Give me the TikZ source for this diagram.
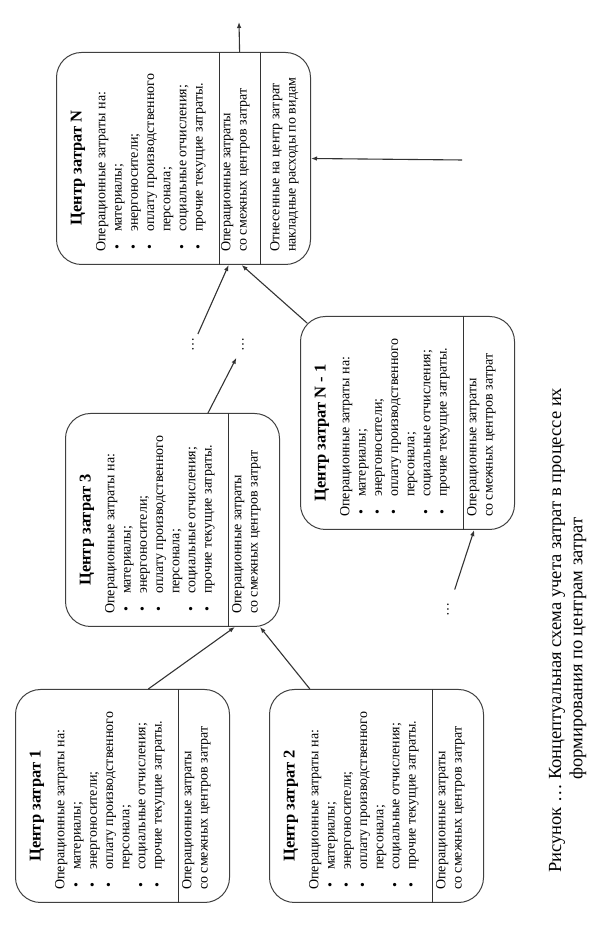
\documentclass[tikz,border=0pt]{standalone}
\usepackage{fontspec}
\setmainfont{Liberation Serif}
\usetikzlibrary{arrows.meta,calc}

\newcommand{\boxfont}{\fontsize{14}{16.2}\selectfont}
\newcommand{\bul}{\makebox[20pt][l]{\hspace{2pt}\textbullet}}
\newcommand{\opcosts}{Операционные затраты на:\\
  \bul материалы;\\
  \bul энергоносители;\\
  \bul оплату производственного\\
  \hspace*{20pt}персонала;\\
  \bul социальные отчисления;\\
  \bul прочие текущие затраты.}

\tikzset{
  costbox/.style={draw=black!75, line width=1pt, rounded corners=25pt,
    minimum width=213pt, minimum height=214pt, inner sep=0pt, anchor=north west},
  boxtitle/.style={inner sep=0pt, font=\fontsize{16.5}{18}\selectfont\bfseries},
  boxtext/.style={anchor=north west, inner sep=0pt, align=left, font=\boxfont},
  divline/.style={draw=black!80, line width=1pt},
  arr/.style={draw=black!80, line width=1.1pt, -{Latex[length=6pt,width=4.5pt]}},
  dotnode/.style={inner sep=1pt, font=\boxfont},
  captext/.style={anchor=west, inner sep=0pt, font=\fontsize{18.5}{21}\selectfont}
}

\begin{document}
\begin{tikzpicture}[x=1pt, y=1pt]
  \useasboundingbox (0,0) rectangle (612,936);

  % the page is turned: everything is drawn in landscape and rotated
  \begin{scope}[rotate=90, transform shape]

    % cost centres 1, 2, 3 and N - 1
    \foreach \nm/\bx/\by/\num in {c1/33/-15/1, c2/33/-269/2, c3/309/-65/3, cn1/406/-300/{N - 1}} {
      \node[costbox] (\nm) at (\bx,\by) {};
      \node[boxtitle] (\nm-t) at (\bx+97,\by-22) {Центр затрат \num};
      \node[boxtext] (\nm-l) at (\bx+13,\by-40) {\opcosts};
      \draw[divline] ($(\nm.north west)!0.762!(\nm.south west)$) -- ($(\nm.north east)!0.762!(\nm.south east)$);
      \node[boxtext] (\nm-s) at (\bx+13,\by-167) {Операционные затраты\\со смежных центров затрат};
    }

    % cost centre N
    \node[costbox, minimum height=254pt, minimum width=212pt] (cn) at (671,-56) {};
    \node[boxtitle] (cn-t) at (768,-78) {Центр затрат N};
    \node[boxtext] (cn-l) at (684,-96) {\opcosts};
    \draw[divline] ($(cn.north west)!0.642!(cn.south west)$) -- ($(cn.north east)!0.642!(cn.south east)$);
    \draw[divline] ($(cn.north west)!0.8!(cn.south west)$) -- ($(cn.north east)!0.8!(cn.south east)$);
    \node[boxtext] (cn-s) at (684,-221) {Операционные затраты\\со смежных центров затрат};
    \node[boxtext] (cn-o) at (684,-270) {Отнесенные на центр затрат\\накладные расходы по видам};

    % omitted centres
    \node[dotnode] (d1) at (591,-193) {…};
    \node[dotnode] (d2) at (591,-243) {…};
    \node[dotnode] (d3) at (326,-448) {…};

    \coordinate (exitpt) at (914,-239);
    \coordinate (inpt) at (776,-462);

    % flows between centres
    \draw[arr] ($(c1.north east)!0.62!(c1.south east)$) -- ($(c3.north west)!0.79!(c3.south west)$);
    \draw[arr] ($(c2.north east)!0.19!(c2.south east)$) -- ($(c3.north west)!0.907!(c3.south west)$);
    \draw[arr, shorten >=10pt] ($(c3.north east)!0.665!(c3.south east)$) -- (d2);
    \draw[arr, shorten <=7pt] (d1) -- ($(cn.north west)!0.677!(cn.south west)$);
    \draw[arr] ($(cn1.north east)!10pt!(cn1.south west)$) -- ($(cn.north west)!0.728!(cn.south west)$);
    \draw[arr, shorten <=15pt] (d3) -- ($(cn1.north west)!0.81!(cn1.south west)$);
    \draw[arr] ($(cn.north east)!0.72!(cn.south east)$) -- (exitpt);
    \draw[arr] (inpt) -- (cn.south);

    % caption
    \node[captext] (fig) at (63,-557) {Рисунок …};
    \node[captext] (cap1) at (156,-557) {Концептуальная схема учета затрат в процессе их};
    \node[captext] (cap2) at (156,-578) {формирования по центрам затрат};
  \end{scope}
\end{tikzpicture}
\end{document}
